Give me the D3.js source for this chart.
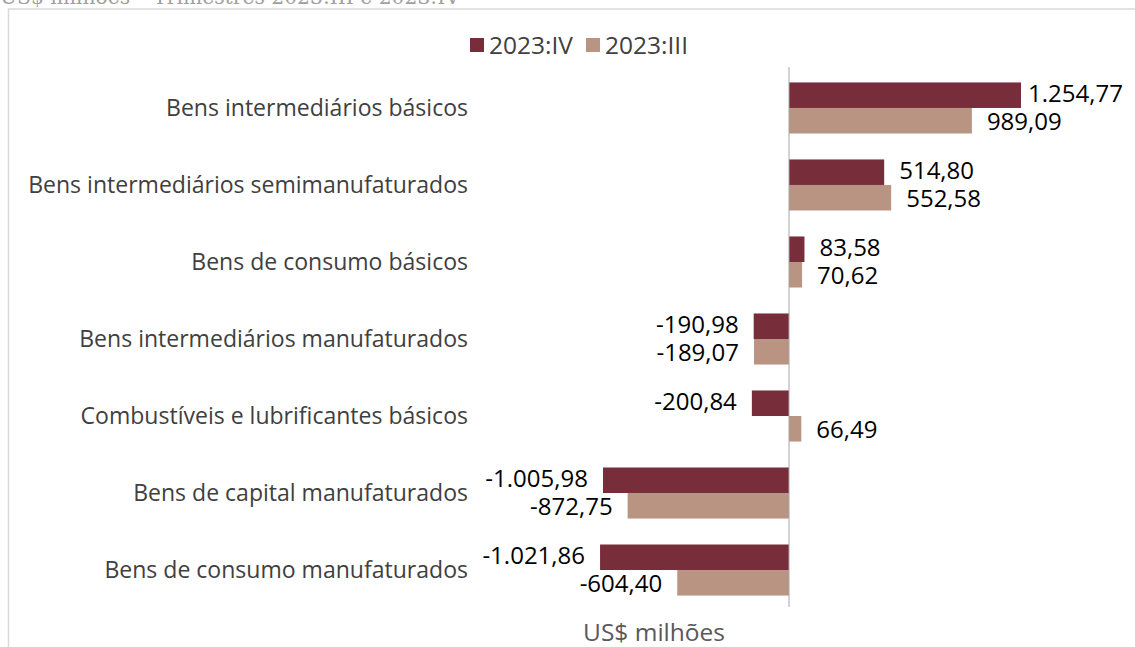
<!DOCTYPE html>
<html><head><meta charset="utf-8">
<script src="https://cdn.jsdelivr.net/npm/d3@7"></script>
<style>body{margin:0;background:#fff}svg{display:block}</style>
</head><body>
<svg id="c" width="1135" height="647"></svg>
<script>
const categories = [
  "Bens intermediários básicos",
  "Bens intermediários semimanufaturados",
  "Bens de consumo básicos",
  "Bens intermediários manufaturados",
  "Combustíveis e lubrificantes básicos",
  "Bens de capital manufaturados",
  "Bens de consumo manufaturados"
];
const seriesNames = ["2023:IV", "2023:III"];
const valuesIV = [1254.77, 514.80, 83.58, -190.98, -200.84, -1005.98, -1021.86];
const valuesIII = [989.09, 552.58, 70.62, -189.07, 66.49, -872.75, -604.40];
const colors = ["#772D3A", "#B99483"];
const titleText = "US$ milhões – Trimestres 2023:III e 2023:IV";
const axisTitle = "US$ milhões";

const svg = d3.select("#c");
const font = "'Open Sans', sans-serif";

function measure(str, size, fam) {
  const t = svg.append("text").attr("font-family", fam).attr("font-size", size).text(str);
  const w = t.node().getComputedTextLength();
  t.remove();
  return w;
}
const catSize = 20 * 440 / measure("Bens intermediários semimanufaturados", 20, font);
const valSize = 20 * 95 / measure("1.254,77", 20, font);
const legSize = 20 * 84 / measure("2023:IV", 20, font);
const titleSize = 20 * 460 / measure(titleText, 20, "'DejaVu Serif', serif");

// frame
svg.append("rect").attr("x", 8.5).attr("y", 9).attr("width", 1140).attr("height", 650)
  .attr("fill", "none").attr("stroke", "#d9d9d9").attr("stroke-width", 1.5);
svg.append("text").attr("x", 0).attr("y", 4).attr("font-family", "'DejaVu Serif', serif")
  .attr("font-size", titleSize).attr("fill", "#a0a0a0").text(titleText);

const x = d3.scaleLinear().domain([-1000, 1000]).range([789 - 184.9, 789 + 184.9]);
const y = d3.scaleBand().domain(categories).range([69.5, 608.5]).paddingInner(0.337).paddingOuter(0.168);
const inner = d3.scaleBand().domain(seriesNames).range([0, y.bandwidth()]);

const data = categories.map((c, i) => ({c, vals: [valuesIV[i], valuesIII[i]]}));
const fmt = v => {
  const s = d3.format(",.2f")(Math.abs(v)).replace(/,/g, "#").replace(".", ",").replace(/#/g, ".");
  return (v < 0 ? "-" : "") + s;
};

const labelGap = 15, rightLimit = 1123;
const vNudge = [-2, 1];
const g = svg.append("g");
data.forEach(d => {
  d.vals.forEach((v, k) => {
    const yy = y(d.c) + inner(seriesNames[k]);
    g.append("rect")
      .attr("x", Math.min(x(0), x(v))).attr("width", Math.abs(x(v) - x(0)))
      .attr("y", yy).attr("height", inner.bandwidth())
      .attr("fill", colors[k]);
    const t = g.append("text")
      .attr("y", yy + inner.bandwidth() / 2 + vNudge[k])
      .attr("dy", "0.35em")
      .attr("text-anchor", v >= 0 ? "start" : "end")
      .attr("font-family", font).attr("font-size", valSize).attr("fill", "#000")
      .text(fmt(v));
    if (v >= 0) {
      const w = t.node().getComputedTextLength();
      t.attr("x", Math.min(x(v) + labelGap, rightLimit - w));
    } else {
      t.attr("x", x(v) - labelGap);
    }
  });
});

// zero axis line
svg.append("line").attr("x1", x(0)).attr("x2", x(0)).attr("y1", 67).attr("y2", 607)
  .attr("stroke", "#a6a6a6").attr("stroke-width", 1);

// category labels
svg.append("g").selectAll("text").data(categories).join("text")
  .attr("x", 468).attr("y", d => y(d) + y.bandwidth() / 2).attr("dy", "0.35em")
  .attr("text-anchor", "end").attr("font-family", font).attr("font-size", catSize)
  .attr("fill", "#404040").text(d => d);

// legend
const legX = [470, 586];
seriesNames.forEach((s, k) => {
  svg.append("rect").attr("x", legX[k]).attr("y", 38).attr("width", 14).attr("height", 14).attr("fill", colors[k]);
  svg.append("text").attr("x", legX[k] + 19).attr("y", 45).attr("dy", "0.35em")
    .attr("font-family", font).attr("font-size", legSize).attr("fill", "#404040").text(s);
});

svg.append("text").attr("x", 654).attr("y", 632).attr("dy", "0.35em").attr("text-anchor", "middle")
  .attr("font-family", font).attr("font-size", legSize).attr("fill", "#595959").text(axisTitle);
</script>
</body></html>
